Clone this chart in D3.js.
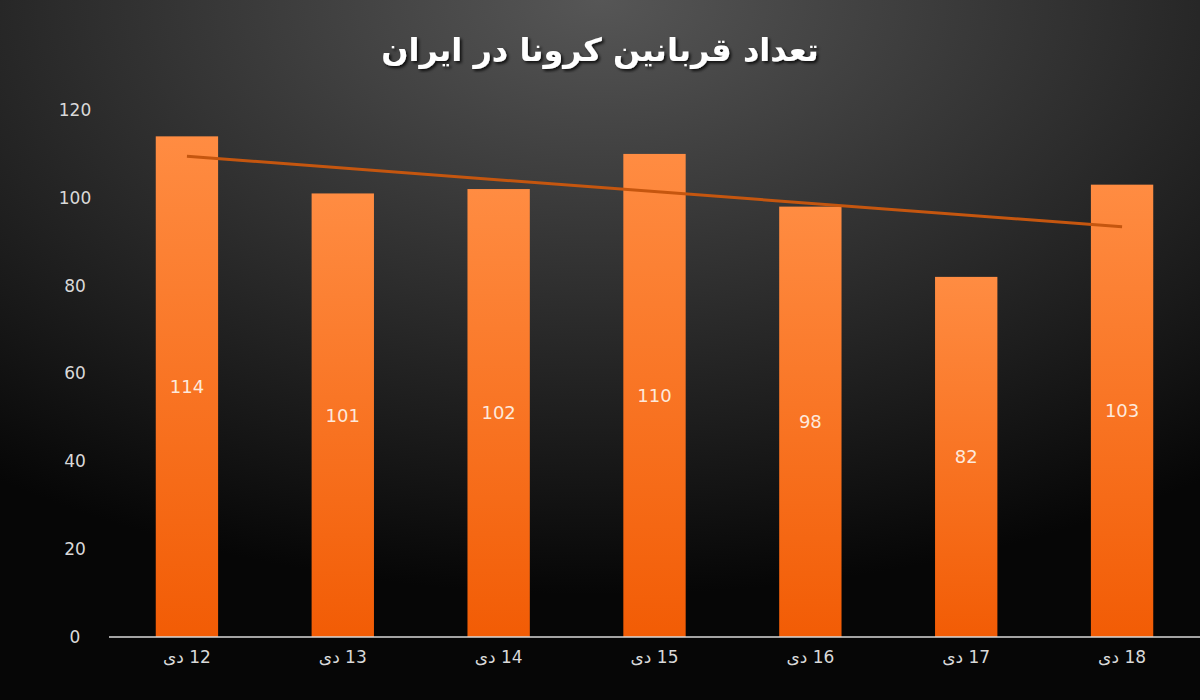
<!DOCTYPE html>
<html lang="fa">
<head>
<meta charset="UTF-8">
<script src="https://d3js.org/d3.v7.min.js"></script>
<style>
  body { margin: 0; background: #000; }
  text { font-family: "DejaVu Sans", "Noto Sans", sans-serif; }
</style>
</head>
<body>
<svg width="1200" height="700"></svg>
<script>
const days = ["12 دی", "13 دی", "14 دی", "15 دی", "16 دی", "17 دی", "18 دی"];
const deaths = [114, 101, 102, 110, 98, 82, 103];
const yTicks = [0, 20, 40, 60, 80, 100, 120];
const title = "تعداد قربانین کرونا در ایران";

const width = 1200, height = 700;
const margin = {top: 110, right: 0, bottom: 63, left: 109};

const svg = d3.select("svg");
const defs = svg.append("defs");

const bg = defs.append("radialGradient").attr("id", "bg")
    .attr("cx", "50%").attr("cy", "0%").attr("r", "85%");
bg.append("stop").attr("offset", "0%").attr("stop-color", "#565656");
bg.append("stop").attr("offset", "100%").attr("stop-color", "#060606");

const barGrad = defs.append("linearGradient").attr("id", "bar")
    .attr("x1", 0).attr("y1", 0).attr("x2", 0).attr("y2", 1);
barGrad.append("stop").attr("offset", "0%").attr("stop-color", "#ff8c42");
barGrad.append("stop").attr("offset", "100%").attr("stop-color", "#f25c05");

const shadow = defs.append("filter").attr("id", "shadow");
shadow.append("feDropShadow").attr("dx", 2).attr("dy", 2)
    .attr("stdDeviation", 1.5).attr("flood-color", "#000").attr("flood-opacity", 0.8);

svg.append("rect").attr("width", width).attr("height", height).attr("fill", "url(#bg)");

const x = d3.scaleBand().domain(days)
    .range([margin.left, width - margin.right]).paddingInner(0.6).paddingOuter(0.3);
const y = d3.scaleLinear().domain([0, 120])
    .range([height - margin.bottom, margin.top]);

// y tick labels
svg.append("g").selectAll("text").data(yTicks).join("text")
    .attr("x", 75).attr("y", d => y(d)).attr("dy", "0.35em")
    .attr("text-anchor", "middle").attr("fill", "#d9d9d9")
    .attr("font-size", 17).text(d => d);

// bars
svg.append("g").selectAll("rect").data(deaths).join("rect")
    .attr("x", (d, i) => x(days[i])).attr("width", x.bandwidth())
    .attr("y", d => y(d)).attr("height", d => y(0) - y(d))
    .attr("fill", "url(#bar)");

// value labels
svg.append("g").selectAll("text").data(deaths).join("text")
    .attr("x", (d, i) => x(days[i]) + x.bandwidth() / 2)
    .attr("y", d => (y(d) + y(0)) / 2).attr("dy", "0.35em")
    .attr("text-anchor", "middle").attr("fill", "#fde9dc")
    .attr("font-size", 18).text(d => d);

// baseline
svg.append("line").attr("x1", margin.left).attr("x2", width - margin.right)
    .attr("y1", y(0)).attr("y2", y(0)).attr("stroke", "#d9d9d9").attr("stroke-width", 1.5);

// x labels
const xAxis = svg.append("g")
    .attr("transform", `translate(0,${y(0)})`)
    .call(d3.axisBottom(x).tickSize(0).tickPadding(14));
xAxis.select(".domain").remove();
xAxis.selectAll("text").attr("fill", "#d9d9d9").attr("font-size", 17)
    .style("direction", "ltr").style("unicode-bidi", "plaintext");

// linear trendline (least squares over the bar values)
const n = deaths.length;
const mx = (n - 1) / 2, my = d3.mean(deaths);
const slope = d3.sum(deaths, (v, i) => (i - mx) * (v - my)) / d3.sum(deaths, (v, i) => (i - mx) ** 2);
const trend = d => my + slope * (d - mx);
const cx = i => x(days[i]) + x.bandwidth() / 2;
svg.append("line")
    .attr("x1", cx(0)).attr("y1", y(trend(0)))
    .attr("x2", cx(n - 1)).attr("y2", y(trend(n - 1)))
    .attr("stroke", "#c5560f").attr("stroke-width", 3);

// title
svg.append("text").attr("x", width / 2).attr("y", 50).attr("dy", "0.35em")
    .attr("text-anchor", "middle").attr("fill", "#fff")
    .attr("font-size", 32).attr("font-weight", "bold")
    .attr("filter", "url(#shadow)").text(title);
</script>
</body>
</html>
